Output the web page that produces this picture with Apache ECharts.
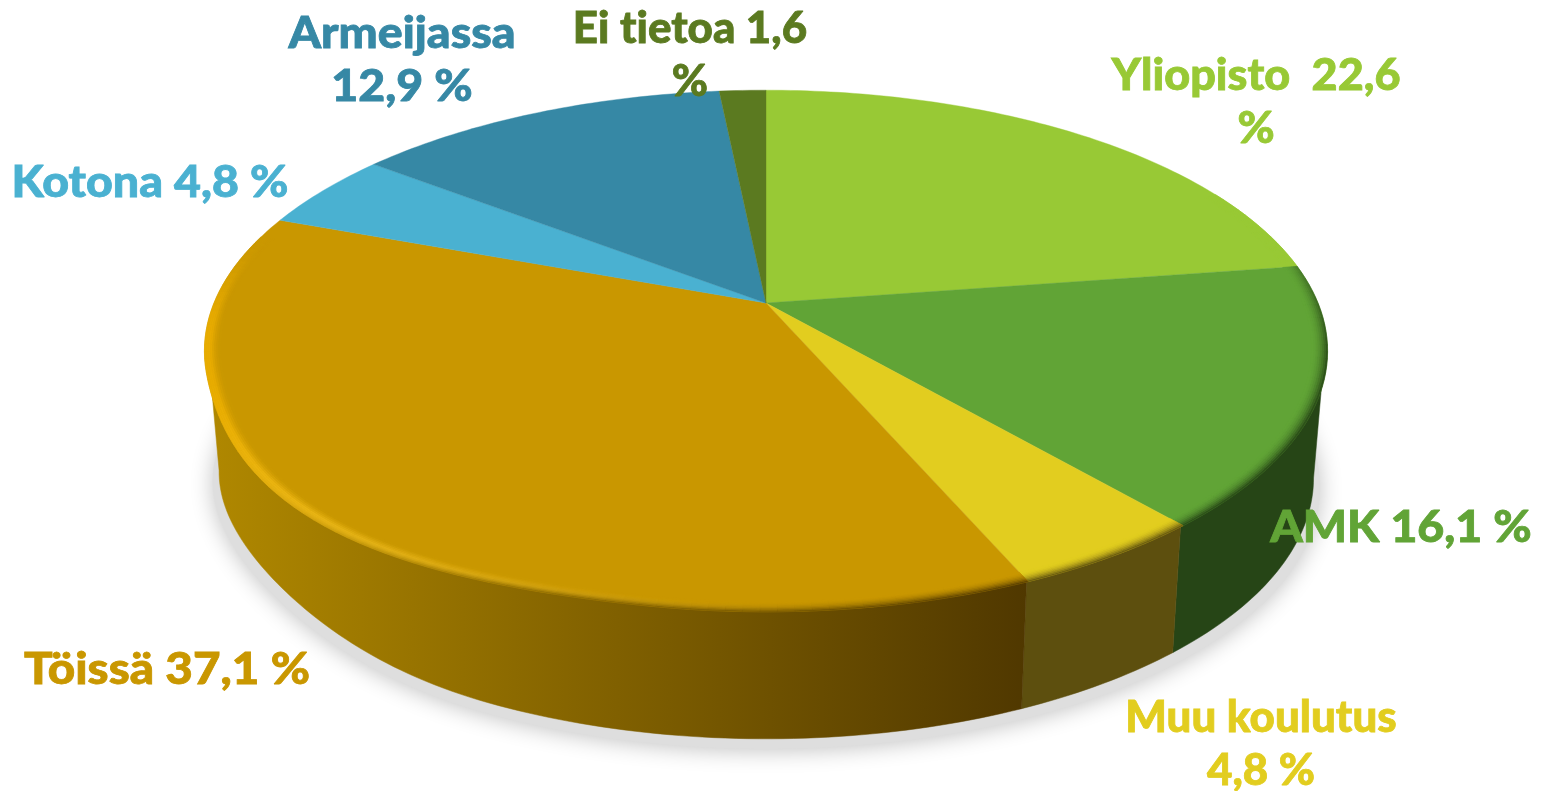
<!DOCTYPE html>
<html><head><meta charset="utf-8">
<style>html,body{margin:0;padding:0;background:#fff}#c{width:1541px;height:791px}</style>
<script src="https://cdn.jsdelivr.net/npm/echarts@6/dist/echarts.min.js"></script>
</head><body><div id="c"></div>
<script>
const categories = ['Yliopisto','AMK','Muu koulutus','Töissä','Kotona','Armeijassa','Ei tietoa'];
const values = [22.6,16.1,4.8,37.1,4.8,12.9,1.6];
const labelTexts = ['Yliopisto  22,6\n%','AMK 16,1 %','Muu koulutus\n4,8 %','Töissä 37,1 %','Kotona 4,8 %','Armeijassa\n12,9 %','Ei tietoa 1,6\n%'];
const faceColors = ['#98C935','#61A436','#E2CD1F','#C99700','#4AB1D1','#3688A5','#5B7A20'];
const sideLeft  = ['#98C935','#264516','#5D4F0E','#B08800','#4AB1D1','#3688A5','#5B7A20'];
const sideRight = ['#98C935','#264516','#5D4F0E','#503800','#4AB1D1','#3688A5','#5B7A20'];
const labelCenters = [[1256,103],[1401,528],[1261,745],[167,670],[150,183],[402,61],[690,56]];
const labelScaleX = [1.045,1.08,1.02,1.105,1.08,1.08,1.02];

// Keep "ti" as two separate glyphs in the label font
const fillTextBase = CanvasRenderingContext2D.prototype.fillText;
CanvasRenderingContext2D.prototype.fillText = function(){ this.letterSpacing='0.02px'; return fillTextBase.apply(this,arguments); };
const strokeTextBase = CanvasRenderingContext2D.prototype.strokeText;
CanvasRenderingContext2D.prototype.strokeText = function(){ this.letterSpacing='0.02px'; return strokeTextBase.apply(this,arguments); };

// Layout of the tilted disc
const CX=766, CY=303, RX=552, RY=252, K=0.184, DEPTH=127, BASE=0.975, RIM=0.028, BANDS=8;
const LABEL_FONT='900 43px Lato', LINE_H=53;

const total = values.reduce((a,b)=>a+b,0);
const starts=[]; values.reduce((s,v,i)=>{starts[i]=s;return s+v;},0);
const deg=v=>v/total*360;
function bulge(th,from,to,amt){ if(th<=from||th>=to) return 1; const w=Math.sin((th-from)/(to-from)*Math.PI); return 1+amt*w*w; }
function project(th,r){const a=th*Math.PI/180,u=r*Math.sin(a),v=r*Math.cos(a),d=1+K*v;return [CX+RX*u/d,CY-RY*v/d];}
function topPt(th,r){return project(th,(r==null?1:r)*bulge(th,190,255,0.026));}
function basePt(th){const p=project(th,bulge(th,205,265,-0.017));return [CX+BASE*(p[0]-CX),p[1]+DEPTH];}
function arc(a,b,f){const n=Math.max(2,Math.ceil(Math.abs(b-a)/1)),o=[];for(let i=0;i<=n;i++)o.push(f(a+(b-a)*i/n));return o;}
const hex=c=>[1,3,5].map(i=>parseInt(c.substr(i,2),16));
const mix=(a,b,t)=>{t=Math.max(0,Math.min(1,t));return a.map((x,i)=>x+(b[i]-x)*t);};
const css=c=>'rgb('+c.map(Math.round).join(',')+')';
const sstep=(a,b,x)=>{const t=Math.max(0,Math.min(1,(x-a)/(b-a)));return t*t*(3-2*t);};
const SIL0=100.6, SIL1=261;

function renderShadowSide(params){
  const i=params.dataIndex, s=deg(starts[i]), e=s+deg(values[i]);
  const children=[];
  if(i===0){
    const ring=arc(0,360,basePt).map(p=>[CX+1.012*(p[0]-CX),p[1]+10]);
    children.push({type:'polygon',shape:{points:ring},silent:true,
      style:{fill:'#dedede',shadowBlur:22,shadowColor:'rgba(0,0,0,0.24)',shadowOffsetY:2}});
  }
  const a=Math.max(s,SIL0), b=Math.min(e,SIL1);
  if(a<b){
    const pts=arc(a,b,t=>topPt(t,0.995)).concat(arc(b,a,basePt));
    const xs=pts.map(p=>p[0]), x0=Math.min.apply(null,xs), x1=Math.max.apply(null,xs);
    const fill=sideLeft[i]===sideRight[i]?sideLeft[i]:new echarts.graphic.LinearGradient(x0,0,x1,0,[{offset:0,color:sideLeft[i]},{offset:1,color:sideRight[i]}],true);
    children.push({type:'polygon',shape:{points:pts},silent:true,style:{fill:fill,stroke:fill,lineWidth:0.5}});
  }
  return {type:'group',children};
}
function renderFace(params){
  const i=params.dataIndex, s=deg(starts[i]), e=s+deg(values[i]);
  const face=hex(faceColors[i]), L=hex(sideLeft[i]), R=hex(sideRight[i]);
  const children=[{type:'polygon',shape:{points:[[CX,CY]].concat(arc(s,e,t=>topPt(t)))},silent:true,
    style:{fill:faceColors[i],stroke:faceColors[i],lineWidth:0.4}}];
  const step=1.5, n=Math.ceil((e-s)/step);
  for(let k=0;k<n;k++){
    const a=s+(e-s)*k/n, b=s+(e-s)*(k+1)/n, m=(a+b)/2;
    const dark=sstep(60,108,m)*(1-sstep(195,250,m));
    const high=sstep(165,215,m)*(1-sstep(262,288,m));
    if(dark<0.01&&high<0.01) continue;
    const mx=topPt(m)[0], target=mix(L,R,(mx-210)/810);
    const hi=mix([250,196,30],[232,172,0],sstep(215,255,m));
    for(let j=0;j<BANDS;j++){
      const p0=j/BANDS,p1=(j+1)/BANDS,p=(p0+p1)/2;
      const r0=1-RIM*p0,r1=1-RIM*p1;
      let c=mix(face,i===3?hi:face,high*(p<0.4?1:Math.pow((1-p)/0.6,1.6)));
      c=mix(c,target,dark*Math.pow(1-p,2));
      const col=css(c);
      children.push({type:'polygon',silent:true,shape:{points:[topPt(a,r0),topPt(b,r0),topPt(b,r1),topPt(a,r1)]},
        style:{fill:col,stroke:col,lineWidth:0.6}});
    }
  }
  return {type:'group',children};
}
function renderLabel(params){
  const i=params.dataIndex, c=labelCenters[i];
  return {type:'text',x:c[0],y:c[1],scaleX:labelScaleX[i],silent:true,
    style:{text:labelTexts[i],fill:faceColors[i],stroke:faceColors[i],lineWidth:0.8,font:LABEL_FONT,align:'center',verticalAlign:'middle',lineHeight:LINE_H}};
}
const data=categories.map((n,i)=>({name:n,value:values[i]}));
const chart=echarts.init(document.getElementById('c'),null,{renderer:'canvas'});
const base={type:'custom',coordinateSystem:'none',animation:false,clip:false,data:data};
chart.setOption({
  backgroundColor:'#ffffff',animation:false,tooltip:{show:false},legend:{show:false},
  series:[
    Object.assign({},base,{name:'side',z:1,renderItem:renderShadowSide}),
    Object.assign({},base,{name:'face',z:2,renderItem:renderFace}),
    Object.assign({},base,{name:'labels',z:3,renderItem:renderLabel})
  ]
});
</script></body></html>
